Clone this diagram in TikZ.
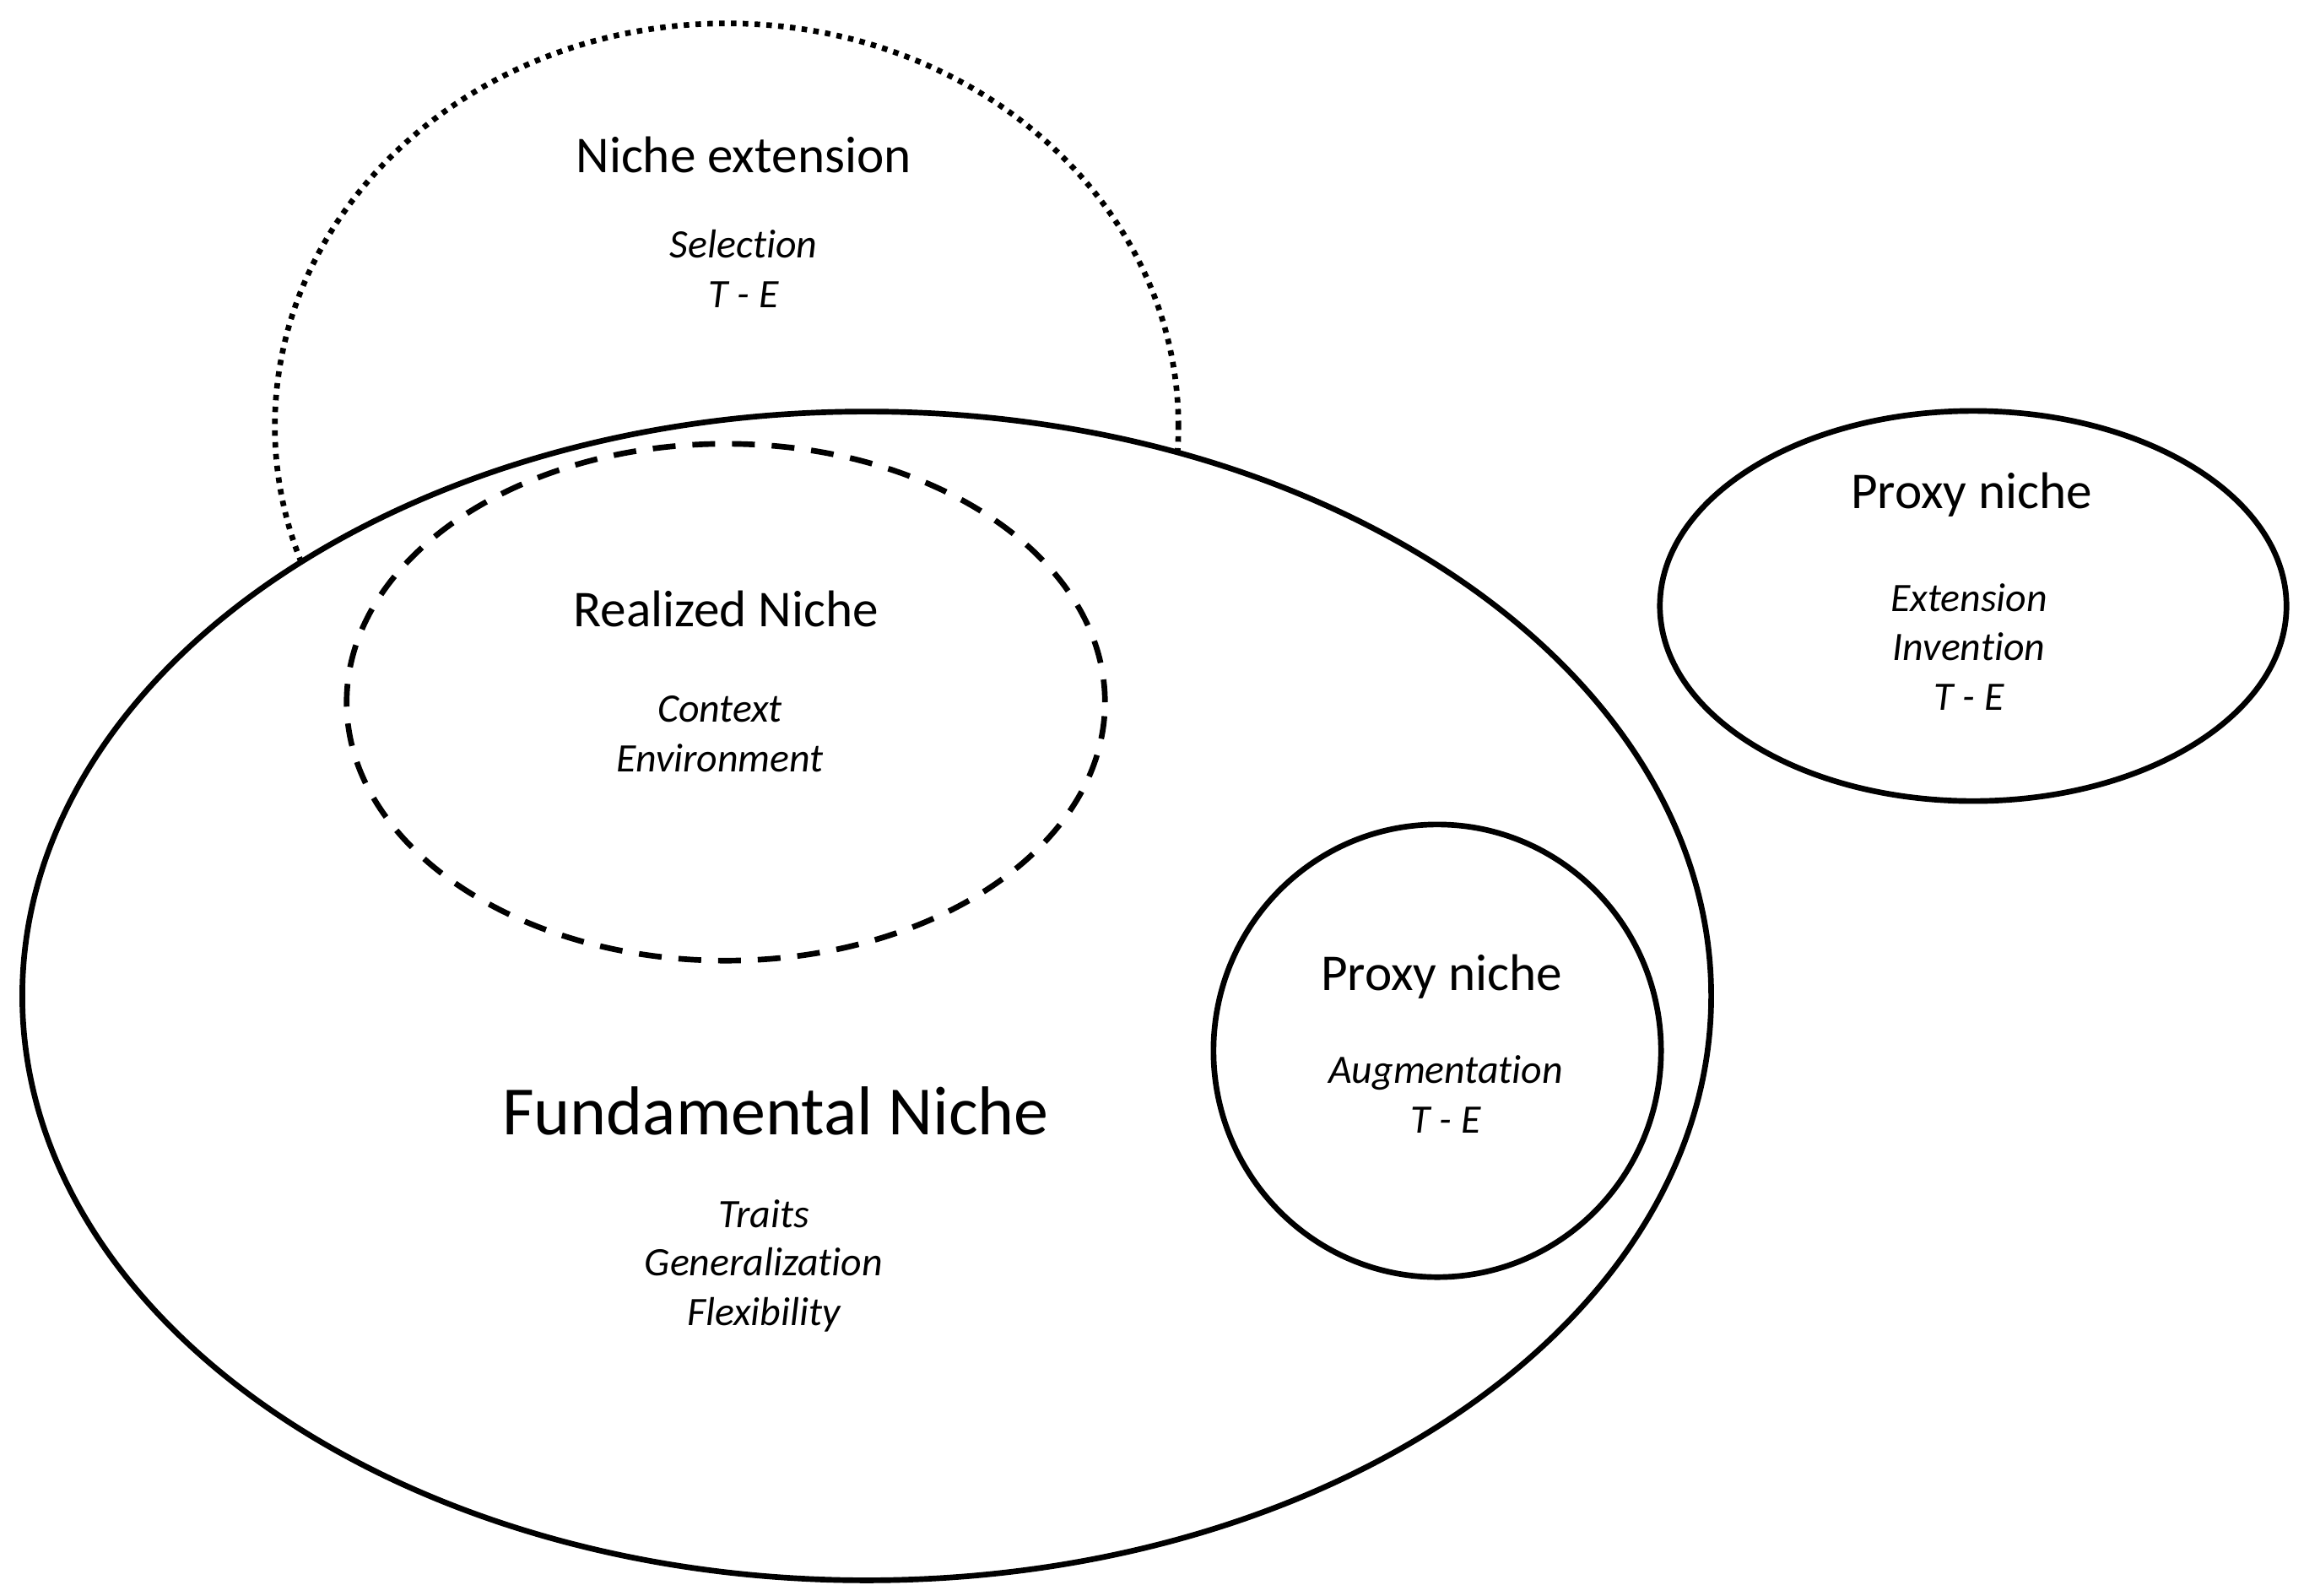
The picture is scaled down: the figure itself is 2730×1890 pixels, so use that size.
\documentclass[tikz,border=0pt]{standalone}
\usepackage{fontspec}
\setmainfont{Carlito}[RawFeature={-liga;-clig;-dlig;-calt}]
\begin{document}
\begin{tikzpicture}[x=0.01cm,y=-0.01cm,
  shapeline/.style={line width=1.9pt},
  dottedline/.style={line width=1.9pt,dash pattern=on 0.065cm off 0.075cm},
  dashedline/.style={line width=1.9pt,dash pattern=on 0.27cm off 0.20cm},
  title/.style={anchor=base,inner sep=0pt,font=\fontsize{17.4pt}{20pt}\selectfont},
  bigtitle/.style={anchor=base,inner sep=0pt,font=\fontsize{23.3pt}{28pt}\selectfont},
  sub/.style={anchor=base,inner sep=0pt,font=\fontsize{13.6pt}{16.8pt}\selectfont\itshape}]
\useasboundingbox (0,0) rectangle (2730,1890);
% Niche extension (dotted), partly hidden by the fundamental niche
\draw[dottedline] (861,505) ellipse [x radius=5.35cm, y radius=4.77cm];
% Fundamental niche
\draw[shapeline,fill=white] (1027,1180) ellipse [x radius=10.00cm, y radius=6.92cm];
% Realized niche (dashed)
\draw[dashedline] (860,832) ellipse [x radius=4.49cm, y radius=3.06cm];
% Inner proxy niche
\draw[shapeline] (1703,1245) ellipse [x radius=2.65cm, y radius=2.68cm];
% Outer proxy niche
\draw[shapeline] (2338,718) ellipse [x radius=3.71cm, y radius=2.31cm];

\node[title] (ne) at (881,204) {Niche extension};
\node[sub] (ne1) at (881,305) {Selection};
\node[sub] (ne2) at (881,364) {T - E};

\node[title] (rn) at (860,742) {Realized Niche};
\node[sub] (rn1) at (853,855) {Context};
\node[sub] (rn2) at (853,914) {Environment};

\node[bigtitle] (fn) at (919,1344) {Fundamental Niche};
\node[sub] (fn1) at (905,1454) {Traits};
\node[sub] (fn2) at (905,1511) {Generalization};
\node[sub] (fn3) at (905,1570) {Flexibility};

\node[title] (pi) at (1708,1173) {Proxy niche};
\node[sub] (pi1) at (1713,1283) {Augmentation};
\node[sub] (pi2) at (1713,1342) {T - E};

\node[title] (po) at (2336,602) {Proxy niche};
\node[sub] (po1) at (2333,724) {Extension};
\node[sub] (po2) at (2333,782) {Invention};
\node[sub] (po3) at (2333,841) {T - E};
\end{tikzpicture}
\end{document}
